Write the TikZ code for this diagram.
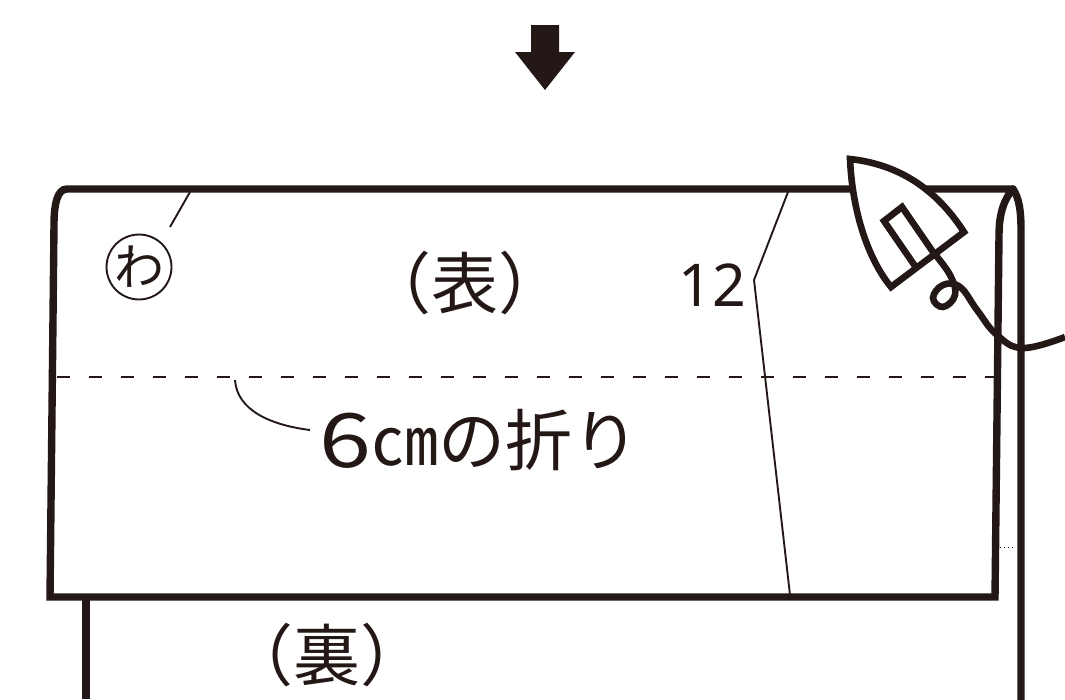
\documentclass[tikz,border=0pt]{standalone}
\usepackage{fontspec}
\setmainfont{Noto Sans}
\newfontfamily\jp{Noto Sans CJK JP}
\definecolor{ink}{HTML}{231815}
\tikzset{
  heavy/.style={draw=ink,line width=7.4pt,line join=miter,line cap=round},
  medium/.style={draw=ink,line width=6.6pt,line join=miter},
  hair/.style={draw=ink,line width=1.9pt},
  fold/.style={draw=ink,line width=2.6pt,dash pattern=on 13pt off 19pt},
  lbl/.style={text=ink,inner sep=0pt,font=\jp\fontsize{67}{67}\selectfont},
}
\begin{document}
\begin{tikzpicture}[x=1pt,y=-1pt]
\useasboundingbox (0,0) rectangle (1065,699);
% arrow
\fill[ink] (531,25) -- (559,25) -- (559,52) -- (575,52) -- (545,90) -- (515,52) -- (531,52) -- cycle;
% lower layer
\draw[heavy,line cap=butt] (86,597) -- (86,699);
\draw[heavy] (1013,189) .. controls (1019,198) and (1021,210) .. (1021,230) -- (1021,705);
% thin lines
\coordinate (wa1) at (190,192);
\coordinate (wa2) at (170,227);
\draw[hair] (wa1) -- (wa2);
\coordinate (s1) at (788,192);
\coordinate (s2) at (754,280);
\coordinate (s3) at (790,595);
\draw[hair] (s1) -- (s2) -- (s3);
\coordinate (f1) at (57,377);
\coordinate (f2) at (996,377);
\draw[fold] (f1) -- (f2);
\coordinate (l1) at (235,380);
\coordinate (l2) at (310,430);
\draw[hair] (l1) .. controls (237,410) and (270,425) .. (l2);
\draw[ink,line width=1pt,dash pattern=on 1pt off 3pt] (1000,547) -- (1016,547);
% front layer
\draw[heavy] (1013,189) -- (67,189) .. controls (57,189) and (54,205) .. (54,225) -- (50,597) -- (995,597) -- (999,235)
  .. controls (999,212) and (1005,198) .. (1013,189);
% iron
\draw[medium,fill=white] (850,159) .. controls (905,165) and (940,195) .. (964,232) -- (891,287)
  .. controls (865,255) and (852,205) .. (850,159) -- cycle;
\draw[medium] (933,252) -- (902,207) -- (884,221) -- (915,266);
\draw[draw=ink,line width=6.6pt,line cap=butt] plot[smooth,tension=0.7] coordinates {(933,252) (950,275) (955,295) (943,307) (933,298) (943,285) (960,287) (977,310) (997,335) (1023,348) (1065,337)};
% text
\node[lbl] (omote) at (465,283) {（表）};
\node[lbl] (ura) at (327,655) {（裏）};
\node[lbl,font=\fontsize{59}{59}\selectfont] (num) at (712,285) {12};
\node[lbl,anchor=west] (fold) at (319,440) {\raisebox{-2pt}{\scalebox{1.4}[1.12]{6}}\jp ㎝の折り};
\node[circle,draw=ink,line width=1.9pt,minimum size=63pt,inner sep=0pt,text=ink,font=\jp\fontsize{50}{50}\selectfont] (wa) at (139,267) {わ};
\end{tikzpicture}
\end{document}
